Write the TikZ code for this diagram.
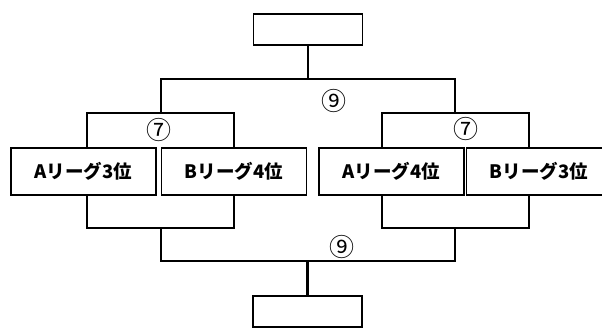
\documentclass[tikz,border=0pt]{standalone}
\usepackage{fontspec}
\setmainfont{Noto Sans CJK JP}
\begin{document}
\begin{tikzpicture}[x=1pt,y=-1pt,
  conn/.style={line width=2.6pt,line cap=rect,line join=miter},
  team/.style={draw,line width=1.8pt,fill=white,minimum width=145pt,minimum height=47pt,inner sep=0pt,font=\bfseries\fontsize{18.5}{18.5}\selectfont},
  blank/.style={draw,line width=1.8pt,fill=white,minimum width=109pt,minimum height=31pt,inner sep=0pt},
  numlabel/.style={inner sep=0pt,font=\fontsize{25}{25}\selectfont}]
\useasboundingbox (0,0) rectangle (602,332);
% coordinates
\coordinate (uL) at (161,79);
\coordinate (uR) at (455,79);
\coordinate (blL) at (87,113);
\coordinate (blR) at (234,113);
\coordinate (brL) at (382,113);
\coordinate (brR) at (529,113);
\coordinate (lL) at (161,261);
\coordinate (lR) at (455,261);
\coordinate (dlL) at (87,228);
\coordinate (dlR) at (234,228);
\coordinate (drL) at (382,228);
\coordinate (drR) at (529,228);
% nodes
\node[blank] (top) at (308,29.5) {};
\node[blank] (bot) at (307.5,311.5) {};
\node[team] (b1) at (83.5,171.5) {Aリーグ3位};
\node[team] (b2) at (234,171.5) {Bリーグ4位};
\node[team] (b3) at (391.5,171.5) {Aリーグ4位};
\node[team] (b4) at (539,171.5) {Bリーグ3位};
% connectors
\draw[conn] (top.south) -- (top.south |- uL);
\draw[conn] (uL |- blL) -- (uL) -- (uR) -- (uR |- brL);
\draw[conn] (b1.north -| blL) -- (blL) -- (blR) -- (b2.north -| blR);
\draw[conn] (b3.north -| brL) -- (brL) -- (brR) -- (b4.north -| brR);
\draw[conn] (b1.south -| dlL) -- (dlL) -- (dlR) -- (b2.south -| dlR);
\draw[conn] (b3.south -| drL) -- (drL) -- (drR) -- (b4.south -| drR);
\draw[conn] (lL |- dlL) -- (lL) -- (lR) -- (lR |- drL);
\draw[conn] (bot.north) -- (bot.north |- lL);
% labels
\node[numlabel] (m1) at (159,130) {⑦};
\node[numlabel] (m2) at (466,129) {⑦};
\node[numlabel] (m3) at (334,101) {⑨};
\node[numlabel] (m4) at (342,247) {⑨};
\end{tikzpicture}
\end{document}
